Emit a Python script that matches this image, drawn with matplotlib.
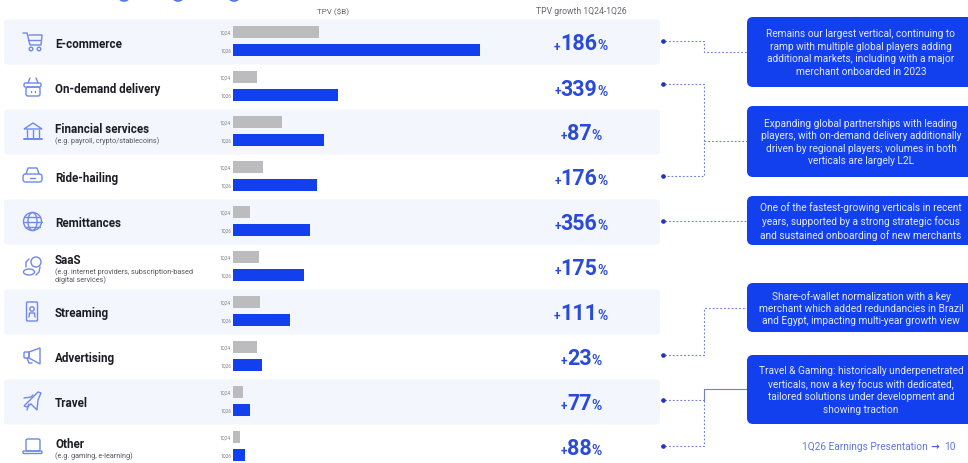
import matplotlib
matplotlib.use("Agg")
import matplotlib.pyplot as plt
from matplotlib.patches import FancyBboxPatch, Circle, Ellipse, Polygon

# Verticals, top to bottom
verticals = ["E-commerce", "On-demand delivery", "Financial services", "Ride-hailing",
             "Remittances", "SaaS", "Streaming", "Advertising", "Travel", "Other"]
subtitles = ["", "", "(e.g. payroll, crypto/stablecoins)", "", "",
             "(e.g. internet providers, subscription-based\ndigital services)", "", "", "",
             "(e.g. gaming, e-learning)"]
# TPV in relative units (the bars carry no value labels)
tpv_1q24 = [86, 24, 49, 30, 17, 26, 27, 23.5, 9.5, 6.5]
tpv_1q26 = [247, 105, 91, 84, 77, 71, 57, 29, 17, 12]
growth = [186, 339, 87, 176, 356, 175, 111, 23, 77, 88]
period_labels = ["1Q24", "1Q26"]
notes = [
    "Remains our largest vertical, continuing to\nramp with multiple global players adding\nadditional markets, including with a major\nmerchant onboarded in 2023",
    "Expanding global partnerships with leading\nplayers, with on-demand delivery additionally\ndriven by regional players; volumes in both\nverticals are largely L2L",
    "One of the fastest-growing verticals in recent\nyears, supported by a strong strategic focus\nand sustained onboarding of new merchants",
    "Share-of-wallet normalization with a key\nmerchant which added redundancies in Brazil\nand Egypt, impacting multi-year growth view",
    "Travel & Gaming: historically underpenetrated\nverticals, now a key focus with dedicated,\ntailored solutions under development and\nshowing traction",
]
note_spans = [(18, 88), (107, 178), (197, 246), (284, 333), (356, 425)]

BLUE = "#1240ef"
GREY = "#bcbcbe"
BAND = "#f3f6fd"
ICON = "#6f88ea"
GROWTH = "#2a4bd8"
LINK = "#6f80cf"
BODY = ["Roboto", "DejaVu Sans"]

W, H = 968, 464
fig = plt.figure(figsize=(W / 100, H / 100), dpi=100, facecolor="white")
ax = fig.add_axes([0, 0, 1, 1])
ax.set_xlim(0, W)
ax.set_ylim(H, 0)
ax.axis("off")

row_y = [43 + 45 * i for i in range(len(verticals))]

# Alternating row bands
for i in range(0, len(verticals) - 1, 2):
    ax.add_patch(FancyBboxPatch((4, row_y[i] - 22.5), 656, 45, boxstyle="round,pad=0,rounding_size=4",
                                fc=BAND, ec="none", zorder=0))

# Bars share one value axis so their lengths stay comparable
x0, x1 = 233, 480
bars = fig.add_axes([x0 / W, 0, (x1 - x0) / W, 1])
bars.set_xlim(0, max(tpv_1q26))
bars.set_ylim(H, 0)
bars.axis("off")
bars.patch.set_alpha(0)
bars.barh([y - 10 for y in row_y], tpv_1q24, height=12, color=GREY, zorder=2)
bars.barh([y + 8 for y in row_y], tpv_1q26, height=12, color=BLUE, zorder=2)

# Row text
NAME = dict(fontsize=8.4, fontweight="bold", family=BODY, color="#1c1c24", va="center")
SUB = dict(fontsize=5.2, family=BODY, color="#55555f", va="center")
for name, sub, y in zip(verticals, subtitles, row_y):
    if sub and "\n" in sub:
        ax.text(55, y - 7.5, name, **NAME)
        ax.text(55, y + 8, sub, linespacing=1.15, **SUB)
    elif sub:
        ax.text(55, y - 3, name, **NAME)
        ax.text(55, y + 8.5, sub, **SUB)
    else:
        ax.text(55, y + 1, name, **NAME)
    ax.text(231, y - 10, period_labels[0], fontsize=3.3, family=BODY, color="#808086", ha="right", va="center")
    ax.text(231, y + 8, period_labels[1], fontsize=3.3, family=BODY, color="#808086", ha="right", va="center")

# Column headers
ax.text(333, 12, "TPV ($B)", fontsize=5.9, family=BODY, color="#666670", ha="center", va="center")
ax.text(581, 12, "TPV growth 1Q24-1Q26", fontsize=6.2, family=BODY, color="#666670", ha="center", va="center")

# Growth figures: small plus, large number, small percent sign on one baseline
fig.canvas.draw()
rend = fig.canvas.get_renderer()
for g, y in zip(growth, row_y):
    base = y + 7.5
    parts = [("+", 8.5), (str(g), 15.5), ("%", 10)]
    arts = [ax.text(0, base, t, fontsize=s, fontweight="bold", family=BODY, color=GROWTH, va="baseline", ha="left")
            for t, s in parts]
    widths = [a.get_window_extent(rend).width for a in arts]
    x = 581 - sum(widths) / 2
    for a, w in zip(arts, widths):
        a.set_x(x)
        x += w

# Commentary boxes
for txt, (top, bottom) in zip(notes, note_spans):
    ax.add_patch(FancyBboxPatch((747, top), 240, bottom - top, boxstyle="round,pad=0,rounding_size=6",
                                fc=BLUE, ec="none", zorder=2))
    ax.text(861, (top + bottom) / 2, txt, fontsize=7.25, family=BODY, color="#e4eafd", ha="center", va="center",
            linespacing=1.3, zorder=3)

# Connectors from the growth figures to the boxes
dash = dict(color=LINK, lw=0.8, ls=(0, (1.6, 1.8)), zorder=1)
paths = [
    ([661, 704, 704, 747], [42, 42, 53, 53]),
    ([661, 704, 704, 661], [85, 85, 177, 177]),
    ([704, 747], [142, 142]),
    ([661, 747], [222, 222]),
    ([661, 704, 704, 747], [356, 356, 309, 309]),
    ([661, 704], [401, 401]),
    ([661, 704, 704], [447, 447, 401]),
]
for px, py in paths:
    ax.plot(px, py, **dash)
ax.plot([704, 704, 747], [401, 390, 390], color=LINK, lw=0.8, zorder=1)
ax.scatter([663] * 7, [42, 85, 177, 222, 356, 401, 447], s=11, color="#2235b5", zorder=3, linewidths=0)

ax.text(802, 447, "1Q26 Earnings Presentation", fontsize=7.3, family=BODY, color="#5f78e0", va="center")
ax.text(930, 447, "→", fontsize=7.5, fontweight="bold", family=["DejaVu Sans"], color="#4a64d8", va="center")
ax.text(950, 447, "10", fontsize=7.3, family=BODY, color="#5f78e0", ha="center", va="center")

# Line icons
def line(xs, ys, lw=1.0):
    ax.plot(xs, ys, color=ICON, lw=lw, solid_capstyle="round", solid_joinstyle="round")

def patch(p):
    p.set(fill=False, edgecolor=ICON, linewidth=1.0)
    ax.add_patch(p)

def rrect(x, y, w, h, r=2):
    patch(FancyBboxPatch((x, y), w, h, boxstyle=f"round,pad=0,rounding_size={r}"))

# cart
line([23, 27, 30, 41, 42, 29], [34, 34, 46, 46, 36, 36])
line([28, 40], [41, 41])
patch(Circle((31, 50), 1.8))
patch(Circle((39, 50), 1.8))
# basket
rrect(24, 84, 17, 4, 1.5)
rrect(26, 88, 14, 9, 2)
line([28, 30], [84, 79])
line([38, 36], [84, 79])
line([31, 31], [92, 93])
line([35, 35], [92, 93])
# bank
patch(Polygon([(24, 130), (33, 124), (42, 130)], closed=True))
for bx in (27, 33, 39):
    line([bx, bx], [131, 138])
line([24, 42], [140, 140], 1.4)
# car
rrect(23, 175, 19, 8, 2.5)
line([26, 28, 37, 39], [175, 169, 169, 175])
line([30, 35], [179, 179])
# globe
patch(Circle((32.5, 222.5), 9))
patch(Ellipse((32.5, 222.5), 9, 18))
line([23.5, 41.5], [222.5, 222.5])
line([25, 40], [217.5, 217.5])
line([25, 40], [227.5, 227.5])
# clouds
patch(Circle((36, 263), 5))
patch(Ellipse((29, 273), 11, 6))
line([26, 26, 29], [268, 263, 260])
line([40, 39, 36], [268, 273, 276])
# streaming phone
rrect(26.5, 303, 11, 19, 1)
patch(Circle((32, 310), 2.2))
line([29, 29.5, 34.5, 35], [318, 314, 314, 318])
# megaphone
patch(Polygon([(29, 353), (40, 349), (40, 365), (29, 359)], closed=True))
rrect(24, 353, 5, 6, 1)
line([27, 29, 32], [359, 364, 364])
# plane
patch(Polygon([(41, 394), (38, 393), (24, 407), (27, 408), (31, 405), (35, 409), (37, 411), (38, 401)], closed=True))
line([24, 31, 33], [399, 398, 396])
line([29, 27], [405, 411])
# laptop
rrect(26, 440, 14, 12, 1.5)
rrect(23, 452, 19, 2.5, 1)

# Icons clipped by the top edge
for cx in (124, 178, 234):
    ax.add_patch(Circle((cx, -4), 6, fill=False, edgecolor="#4f74e8", lw=1.2))

fig.savefig("out.png", dpi=100, facecolor="white")
